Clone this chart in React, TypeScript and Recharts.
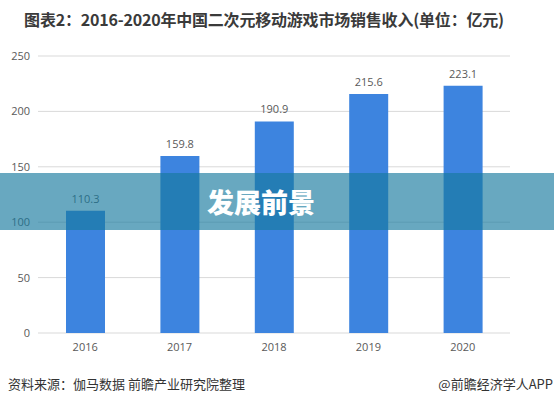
import { BarChart, Bar, XAxis, YAxis, CartesianGrid, LabelList } from "recharts"

const years = ["2016", "2017", "2018", "2019", "2020"]
const revenue = [110.3, 159.8, 190.9, 215.6, 223.1]
const yTicks = [0, 50, 100, 150, 200, 250]

const data = years.map((year, i) => ({ year, revenue: revenue[i] }))

const cjk = '"Noto Sans CJK SC", "Noto Sans", sans-serif'
const num = '"Open Sans", sans-serif'

export default function App() {
  return (
    <div style={{ position: "absolute", left: 0, top: 0, width: 554, height: 404, background: "#fff", overflow: "hidden", fontFamily: cjk }}>
      <div style={{ position: "absolute", left: 0, top: 7, width: 528, textAlign: "center", fontSize: 16, fontWeight: 700, color: "#3a3a3a", whiteSpace: "nowrap", letterSpacing: -0.2 }}>
        图表2：2016-2020年中国二次元移动游戏市场销售收入(单位：亿元)
      </div>
      <BarChart width={554} height={404} data={data} margin={{ top: 56, right: 44, left: 0, bottom: 51 }}>
        <CartesianGrid vertical={false} stroke="#d9d9d9" />
        <XAxis
          dataKey="year"
          axisLine={false}
          tickLine={false}
          height={20}
          tick={{ fontSize: 11, fill: "#595959", fontFamily: num }}
          tickMargin={4}
        />
        <YAxis
          domain={[0, 250]}
          ticks={yTicks}
          width={38}
          axisLine={false}
          tickLine={false}
          tick={{ fontSize: 11, fill: "#595959", fontFamily: num }}
        />
        <Bar dataKey="revenue" fill="#3d84df" barSize={39} isAnimationActive={false}>
          <LabelList dataKey="revenue" position="top" offset={8} style={{ fontSize: 11, fill: "#595959", fontFamily: num }} />
        </Bar>
      </BarChart>
      <div style={{ position: "absolute", left: 0, top: 173, width: 554, height: 57, background: "rgba(23,121,158,0.65)" }} />
      <div style={{ position: "absolute", left: 205, top: 184, width: 112, textAlign: "center", fontSize: 27, fontWeight: 900, color: "#fff", lineHeight: "36px", whiteSpace: "nowrap" }}>
        发展前景
      </div>
      <div style={{ position: "absolute", left: 8, top: 374, fontSize: 13, color: "#333", whiteSpace: "nowrap" }}>
        资料来源：伽马数据 前瞻产业研究院整理
      </div>
      <div style={{ position: "absolute", right: 1, top: 374, fontSize: 13, color: "#333", whiteSpace: "nowrap" }}>
        @前瞻经济学人APP
      </div>
    </div>
  )
}
